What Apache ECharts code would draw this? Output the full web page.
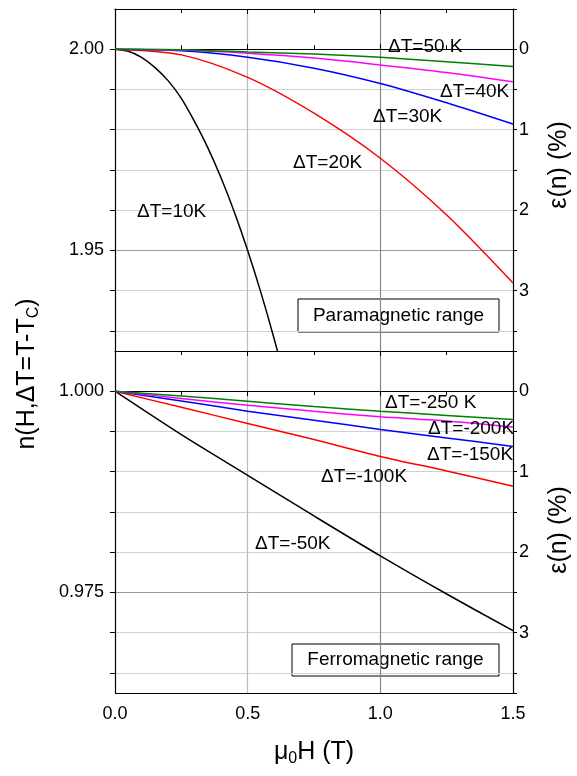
<!DOCTYPE html>
<html>
<head>
<meta charset="utf-8">
<script src="https://cdn.jsdelivr.net/npm/echarts@6/dist/echarts.min.js"></script>
<style>
html, body { margin: 0; padding: 0; background: #fff; }
#main { width: 577px; height: 776px; }
</style>
</head>
<body>
<div id="main"></div>
<script>
// field values (T)
var fieldT = [0, 0.25, 0.5, 0.75, 1.0, 1.25, 1.5];
var fieldFine = [0, 0.05, 0.1, 0.15, 0.2, 0.25, 0.3, 0.35, 0.4, 0.45, 0.5, 0.55, 0.6, 0.65];

// paramagnetic range, n(H)
var para10 = [2.000, 1.9995, 1.998, 1.9955, 1.9922, 1.9878, 1.982, 1.9755, 1.968, 1.9595, 1.950, 1.9395, 1.928, 1.9155];
var para20 = [2.000, 1.9986, 1.9930, 1.9841, 1.9729, 1.9588, 1.9419];
var para30 = [2.000, 1.9996, 1.9980, 1.9953, 1.9915, 1.9867, 1.9814];
var para40 = [2.000, 1.9998, 1.9990, 1.9978, 1.9961, 1.9942, 1.9919];
var para50 = [2.000, 1.9999, 1.9993, 1.9988, 1.9980, 1.9969, 1.9957];

// ferromagnetic range, n(H)
var ferro50 = [1.000, 0.9946, 0.98955, 0.9845, 0.97954, 0.9748, 0.97024];
var ferro100 = [1.000, 0.9980, 0.9960, 0.9940, 0.9919, 0.9901, 0.9882];
var ferro150 = [1.000, 0.9988, 0.99752, 0.9964, 0.99525, 0.9942, 0.99314];
var ferro200 = [1.000, 0.9991, 0.99826, 0.9975, 0.99682, 0.9963, 0.99555];
var ferro250 = [1.000, 0.9994, 0.99876, 0.9981, 0.99752, 0.9970, 0.99649];

// tick values
var topLabels = [1.95, 2.00];
var topTicks = [1.93, 1.94, 1.95, 1.96, 1.97, 1.98, 1.99, 2.00];
var botLabels = [0.975, 1.000];
var botTicks = [0.965, 0.970, 0.975, 0.980, 0.985, 0.990, 0.995, 1.000];

var FONT = 'Liberation Sans, Arial, sans-serif';

function pairs(xs, ys) {
    var out = [];
    for (var i = 0; i < ys.length; i++) out.push([xs[i], ys[i]]);
    return out;
}

function curve(name, xs, ys, color, xi, yi) {
    return {
        name: name, type: 'line', xAxisIndex: xi, yAxisIndex: yi,
        data: pairs(xs, ys), smooth: 0.3, symbol: 'none', clip: true,
        lineStyle: { color: color, width: 1.5 }, z: 5
    };
}

function xAx(grid, pos, labels) {
    return {
        type: 'value', gridIndex: grid, position: pos, min: 0, max: 1.5, interval: 0.5,
        axisLine: { show: true, lineStyle: { color: '#000', width: 1 } },
        axisTick: { show: true, inside: !labels, length: 5, lineStyle: { color: '#000' } },
        minorTick: { show: true, splitNumber: 2, length: 4, lineStyle: { color: '#000' } },
        axisLabel: {
            show: labels, margin: 12, color: '#000', fontFamily: FONT, fontSize: 18,
            formatter: function (v) { return v.toFixed(1); }
        },
        splitLine: { show: pos === 'bottom', lineStyle: { color: ['#000', '#bbb', '#888', '#000'], width: 1.2 } }
    };
}

function leftAx(grid, min, max, labels, ticks, digits) {
    return {
        type: 'value', gridIndex: grid, position: 'left', min: min, max: max,
        axisLine: { show: true, onZero: false, lineStyle: { color: '#000', width: 1 } },
        axisTick: { show: true, customValues: ticks, length: 5, lineStyle: { color: '#000' } },
        axisLabel: {
            customValues: labels, margin: 11, color: '#000', fontFamily: FONT, fontSize: 18,
            formatter: function (v) { return v.toFixed(digits); }
        },
        splitLine: { show: false }
    };
}

function rightAx(grid) {
    return {
        type: 'value', gridIndex: grid, position: 'right', inverse: true,
        min: -0.5, max: 3.75, interval: 0.5,
        axisLine: { show: true, onZero: false, lineStyle: { color: '#000', width: 1 } },
        axisTick: { show: true, length: 4, lineStyle: { color: '#000' } },
        axisLabel: {
            margin: 6, color: '#000', fontFamily: FONT, fontSize: 18,
            formatter: function (v) { return Math.abs(v - Math.round(v)) < 1e-6 && v >= 0 ? String(Math.round(v)) : ''; }
        },
        splitLine: {
            show: true,
            lineStyle: { color: ['#000', '#999', '#d0d0d0', '#d0d0d0', '#d0d0d0', '#d0d0d0', '#999', '#d0d0d0', '#d0d0d0', '#000'], width: 1.2 }
        }
    };
}

function label(text, x, y) {
    return {
        type: 'text', x: x, y: y, z: 10,
        style: { text: text, fill: '#000', font: '19px ' + FONT, align: 'left', verticalAlign: 'middle' }
    };
}

function box(text, x, y, w, h) {
    return {
        type: 'group', z: 20,
        children: [
            { type: 'rect', shape: { x: x, y: y, width: w, height: h }, style: { fill: '#fff', stroke: '#000', lineWidth: 1 } },
            { type: 'text', x: x + w / 2, y: y + h / 2, style: { text: text, fill: '#000', font: '19px ' + FONT, align: 'center', verticalAlign: 'middle' } }
        ]
    };
}

var titleRich = {
    a: { fontSize: 25, fontFamily: FONT, lineHeight: 30, fill: '#000', color: '#000' },
    s: { fontSize: 16, fontFamily: FONT, lineHeight: 16, verticalAlign: 'bottom', fill: '#000', color: '#000' }
};

function vtitle(x, y, parts) {
    return {
        type: 'text', x: x, y: y, rotation: Math.PI / 2,
        style: {
            text: parts, align: 'center', verticalAlign: 'middle', fill: '#000',
            font: '25px ' + FONT, rich: titleRich
        }
    };
}

var chart = echarts.init(document.getElementById('main'));
chart.setOption({
    backgroundColor: '#fff',
    animation: false,
    grid: [
        { left: 115, top: 9, width: 398, height: 342 },
        { left: 115, top: 351, width: 398, height: 342 }
    ],
    xAxis: [
        xAx(0, 'bottom', false),
        xAx(0, 'top', false),
        (function () {
            var a = xAx(1, 'bottom', true);
            a.name = '{a|μ}{s|0}{a|H (T)}';
            a.nameLocation = 'middle';
            a.nameGap = 44;
            a.axisTick.inside = false;
            a.nameTextStyle = { rich: titleRich };
            return a;
        })(),
        xAx(1, 'top', false)
    ],
    yAxis: [
        leftAx(0, 1.925, 2.01, topLabels, topTicks, 2),
        rightAx(0),
        leftAx(1, 0.9625, 1.005, botLabels, botTicks, 3),
        rightAx(1)
    ],
    series: [
        curve('ΔT=10K', fieldFine, para10, '#000000', 0, 0),
        curve('ΔT=20K', fieldT, para20, '#ff0000', 0, 0),
        curve('ΔT=30K', fieldT, para30, '#0000ff', 0, 0),
        curve('ΔT=40K', fieldT, para40, '#ff00ff', 0, 0),
        curve('ΔT=50 K', fieldT, para50, '#008000', 0, 0),
        curve('ΔT=-50K', fieldT, ferro50, '#000000', 2, 2),
        curve('ΔT=-100K', fieldT, ferro100, '#ff0000', 2, 2),
        curve('ΔT=-150K', fieldT, ferro150, '#0000ff', 2, 2),
        curve('ΔT=-200K', fieldT, ferro200, '#ff00ff', 2, 2),
        curve('ΔT=-250 K', fieldT, ferro250, '#008000', 2, 2)
    ],
    graphic: [
        label('ΔT=50 K', 388, 47),
        label('ΔT=40K', 440, 92),
        label('ΔT=30K', 373, 117),
        label('ΔT=20K', 293, 163),
        label('ΔT=10K', 137, 212),
        label('ΔT=-250 K', 385, 403),
        label('ΔT=-200K', 428, 429),
        label('ΔT=-150K', 427, 455),
        label('ΔT=-100K', 321, 477),
        label('ΔT=-50K', 255, 544),
        box('Paramagnetic range', 298, 299, 201, 33),
        box('Ferromagnetic range', 292, 644, 207, 32),
        vtitle(27, 374, '{a|n(H,ΔT=T-T}{s|C}{a|)}'),
        vtitle(559, 165, '{a|ε(n) (%)}'),
        vtitle(559, 530, '{a|ε(n) (%)}')
    ]
});
</script>
</body>
</html>
